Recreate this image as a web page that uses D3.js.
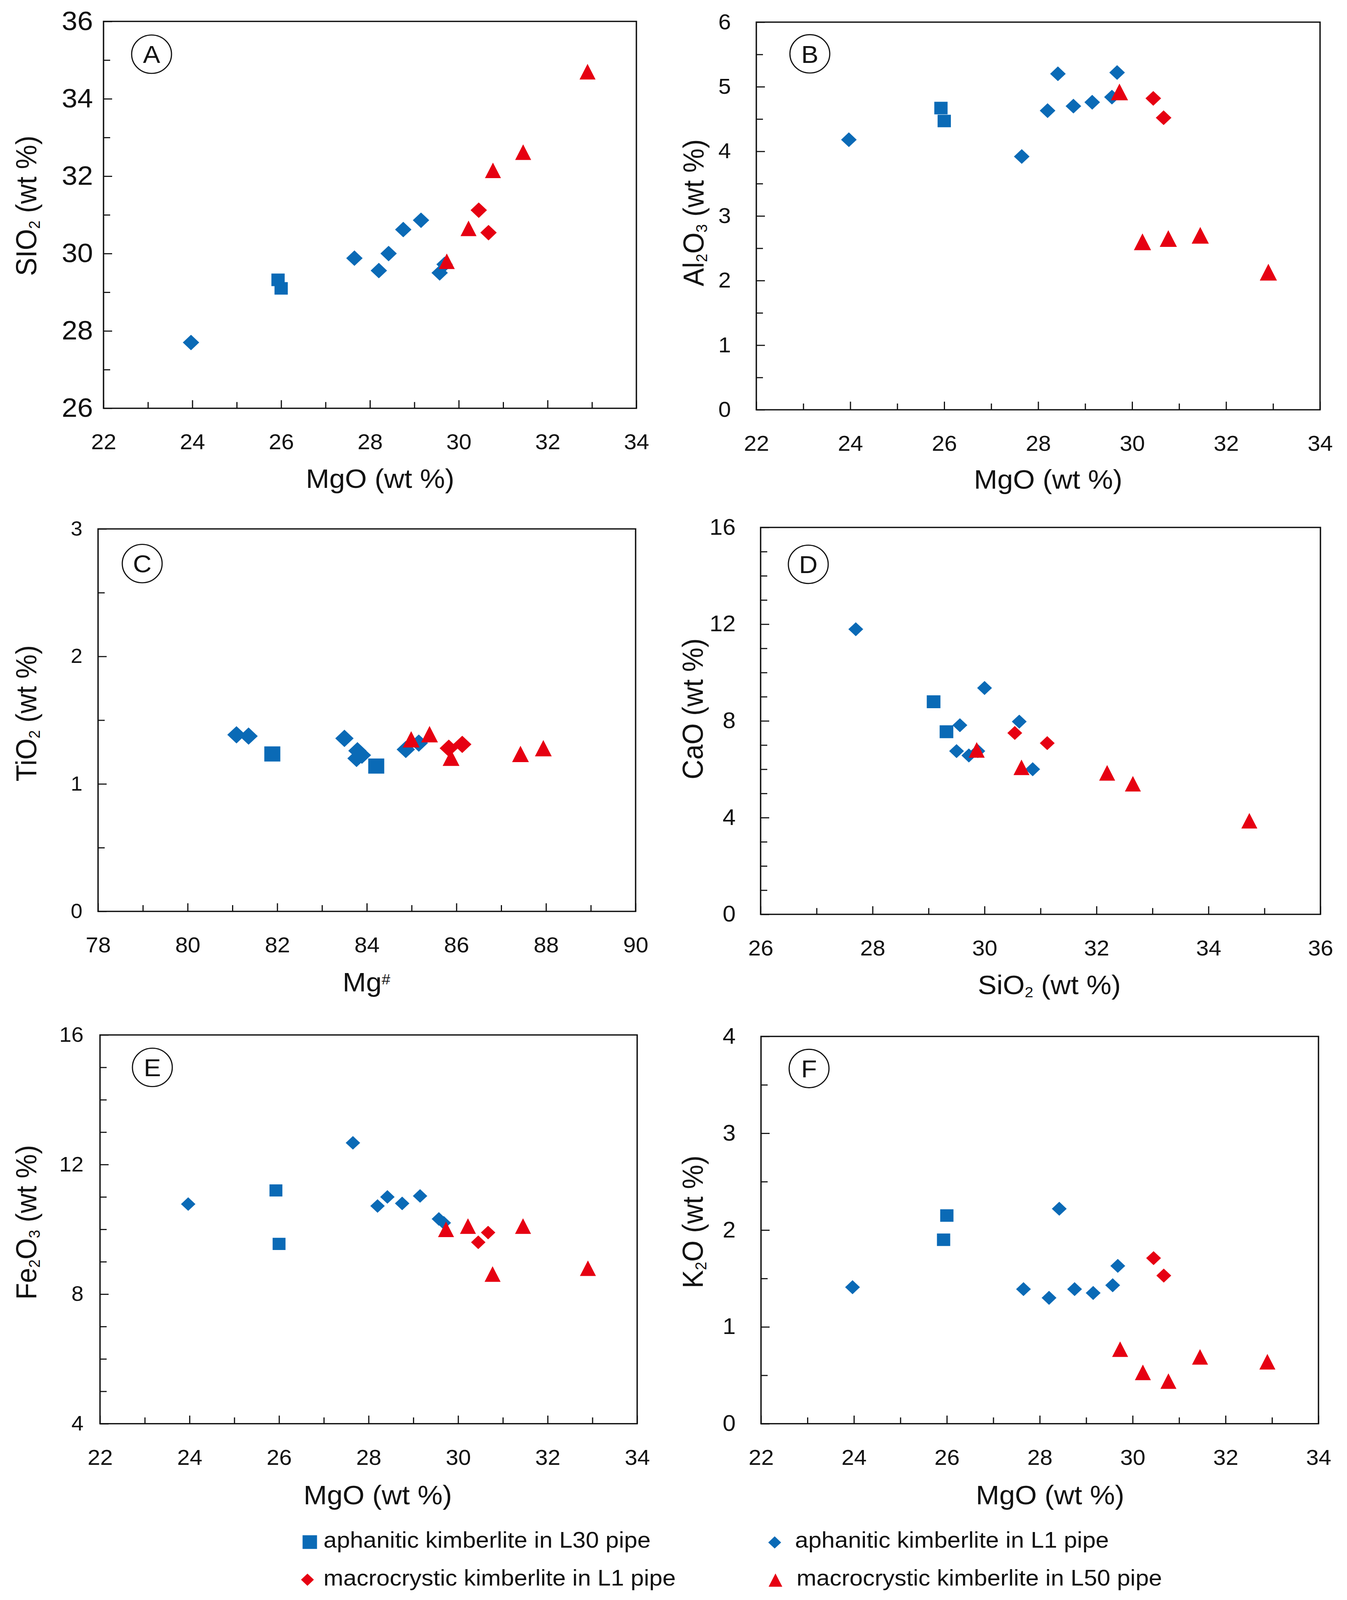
<!DOCTYPE html>
<html>
<head>
<meta charset="utf-8">
<script src="https://d3js.org/d3.v7.min.js"></script>
<style>
  html, body { margin: 0; padding: 0; background: #fff; overflow: hidden; }
  text { font-family: "Liberation Sans", Arial, sans-serif; fill: #111; }
</style>
</head>
<body>
<div id="chart"></div>
<script>
// values, same sample order in every list
const mgoL30 = [25.93, 26.0];
const sio2L30 = [29.32, 29.1];
const al2o3L30 = [4.67, 4.47];
const fe2o3L30 = [11.2, 9.55];
const k2oL30 = [1.9, 2.15];
const sio2L30D = [29.09, 29.32];
const caoL30 = [8.79, 7.55];
const mgNoL30 = [81.89, 84.21];
const tio2L30 = [1.235, 1.14];

const mgoL1a = [23.97, 27.65, 28.2, 28.42, 28.75, 29.15, 29.57, 29.68];
const sio2L1a = [27.7, 29.88, 29.56, 30.0, 30.62, 30.86, 29.5, 29.72];
const al2o3L1a = [4.18, 3.92, 4.63, 5.2, 4.7, 4.76, 4.84, 5.22];
const fe2o3L1a = [10.78, 12.67, 10.72, 11.0, 10.8, 11.03, 10.32, 10.2];
const k2oL1a = [1.41, 1.39, 1.3, 2.22, 1.39, 1.35, 1.43, 1.63];
const caoL1a = [11.79, 6.75, 7.82, 9.36, 7.97, 6.0, 6.75, 6.57];
const mgNoL1a = [81.09, 81.36, 83.5, 83.79, 83.89, 83.77, 84.87, 85.16];
const tio2L1a = [1.385, 1.375, 1.357, 1.26, 1.225, 1.2, 1.27, 1.32];

const mgoL1m = [30.45, 30.67];
const sio2L1m = [31.12, 30.54];
const al2o3L1m = [4.82, 4.52];
const fe2o3L1m = [9.6, 9.9];
const k2oL1m = [1.71, 1.53];
const caoL1m = [7.08, 7.5];
const mgNoL1m = [85.83, 86.13];
const tio2L1m = [1.28, 1.31];

const mgoL50 = [29.73, 30.22, 30.77, 31.45, 32.9];
const sio2L50 = [29.8, 30.65, 32.15, 32.62, 34.7];
const al2o3L50 = [4.92, 2.6, 2.65, 2.7, 2.13];
const fe2o3L50 = [10.0, 10.1, 8.62, 10.1, 8.8];
const k2oL50 = [0.77, 0.53, 0.44, 0.69, 0.64];
const sio2L50D = [29.86, 30.66, 32.19, 32.65, 34.73];
const caoL50 = [6.8, 6.08, 5.85, 5.4, 3.87];
const mgNoL50 = [84.99, 85.4, 85.88, 87.43, 87.94];
const tio2L50 = [1.35, 1.39, 1.205, 1.235, 1.28];

const legendLabels = [
    'aphanitic kimberlite in L30 pipe',
    'aphanitic kimberlite in L1 pipe',
    'macrocrystic kimberlite in L1 pipe',
    'macrocrystic kimberlite in L50 pipe'
];

const BLUE = '#0a6ab6';
const RED = '#e60012';
const INK = '#111';
const width = 3448, height = 4338;

// the window can be shorter than the figure, so the drawing is fitted to it
const svg = d3.select('#chart').append('svg')
    .attr('viewBox', `0 0 ${width} ${height}`)
    .attr('preserveAspectRatio', 'none')
    .style('width', '100vw')
    .style('height', '100vh')
    .style('display', 'block');

// four sample groups, drawn in this order
function groups(xs, ys) {
    return [
        { kind: 'square', color: BLUE, x: xs[0], y: ys[0] },
        { kind: 'diamond', color: BLUE, x: xs[1], y: ys[1] },
        { kind: 'diamond', color: RED, x: xs[2], y: ys[2] },
        { kind: 'triangle', color: RED, x: xs[3], y: ys[3] }
    ];
}

// the figure's triangle is a bit taller than equilateral, centred on its box
const tallTriangle = {
    draw(context, size) {
        const w = Math.sqrt(size);
        const h = w * 1.03;
        context.moveTo(0, -h / 2);
        context.lineTo(w / 2, h / 2);
        context.lineTo(-w / 2, h / 2);
        context.closePath();
    }
};

// size is the side of the square, the width of the diamond or of the triangle
function marker(kind, size) {
    if (kind === 'square') return d3.symbol(d3.symbolSquare, size * size)();
    if (kind === 'diamond') return d3.symbol(d3.symbolSquare, size * size / 2)();
    return d3.symbol(tallTriangle, size * size)();
}

function placeMarker(kind, px, py) {
    return `translate(${px},${py})` + (kind === 'diamond' ? ' rotate(45)' : '');
}

const isMajor = (d, domain, step) => Math.abs((d - domain[0]) / step % 1) < 1e-6;

// inward ticks: the labelled ones are longer
function styleAxis(a, font, domain, step, lineAttr, sign) {
    a.select('.domain').remove();
    a.selectAll('.tick line')
        .attr(lineAttr, d => sign * (isMajor(d, domain, step) ? 22 : 17))
        .attr('stroke', INK)
        .attr('stroke-width', 3);
    a.selectAll('text').style('font-size', font + 'px');
}

function drawPanel(p) {
    const [left, right, top, bottom] = p.box;
    const x = d3.scaleLinear().domain(p.xDomain).range([left, right]);
    const y = d3.scaleLinear().domain(p.yDomain).range([bottom, top]);
    const g = svg.append('g');

    g.append('rect')
        .attr('x', left).attr('y', top)
        .attr('width', right - left).attr('height', bottom - top)
        .attr('fill', 'none').attr('stroke', INK).attr('stroke-width', 3.5);

    const xAxis = d3.axisBottom(x)
        .tickValues(d3.range(p.xDomain[0], p.xDomain[1] + 0.001, p.xMinor))
        .tickSize(-20)
        .tickPadding(70)
        .tickFormat(d => (isMajor(d, p.xDomain, p.xStep) ? d : ''));
    g.append('g').attr('transform', `translate(0,${bottom})`).call(xAxis)
        .call(a => styleAxis(a, p.xFont, p.xDomain, p.xStep, 'y2', -1));

    const yAxis = d3.axisLeft(y)
        .tickValues(d3.range(p.yDomain[0], p.yDomain[1] + 0.001, p.yMinor))
        .tickSize(-20)
        .tickPadding(p.yPad)
        .tickFormat(d => (isMajor(d, p.yDomain, p.yStep) ? d : ''));
    g.append('g').attr('transform', `translate(${left},0)`).call(yAxis)
        .call(a => styleAxis(a, p.yFont, p.yDomain, p.yStep, 'x2', 1));

    groups(p.xs, p.ys).forEach(s => {
        g.selectAll(null).data(s.x).enter().append('path')
            .attr('d', marker(s.kind, p.sizes[s.kind]))
            .attr('fill', s.color)
            .attr('transform', (d, i) => placeMarker(s.kind, x(d), y(s.y[i])));
    });

    // letter in a ring
    g.append('ellipse')
        .attr('cx', p.ring[0]).attr('cy', p.ring[1]).attr('rx', 51).attr('ry', 52)
        .attr('fill', 'none').attr('stroke', INK).attr('stroke-width', 3);
    g.append('text')
        .attr('x', p.ring[0]).attr('y', p.ring[1] + 24)
        .attr('text-anchor', 'middle')
        .style('font-size', '66px')
        .text(p.letter);

    axisTitle(g, p.xTitle, p.xTitlePos[0], p.xTitlePos[1], 0, 72);
    axisTitle(g, p.yTitle, p.yTitlePos[0], p.yTitlePos[1], -90, 74);
}

// title parts: [text, 'sub' | 'sup' | undefined]
function axisTitle(g, parts, tx, ty, angle, size) {
    const t = g.append('text')
        .attr('transform', `translate(${tx},${ty}) rotate(${angle})`)
        .attr('text-anchor', 'middle')
        .style('font-size', size + 'px');
    parts.forEach(part => {
        const span = t.append('tspan').text(part[0]);
        if (part[1] === 'sub') span.attr('baseline-shift', '-22%').style('font-size', size * 0.55 + 'px');
        if (part[1] === 'sup') span.attr('baseline-shift', '50%').style('font-size', size * 0.55 + 'px');
    });
}

const mgoX = [mgoL30, mgoL1a, mgoL1m, mgoL50];
const wt = [' (wt %)'];

const panels = [
    { letter: 'A', box: [265, 1629, 58, 1107], ring: [388, 147],
      xDomain: [22, 34], xStep: 2, xMinor: 1, yDomain: [26, 36], yStep: 2, yMinor: 1,
      xs: mgoX, ys: [sio2L30, sio2L1a, sio2L1m, sio2L50],
      sizes: { square: 34, diamond: 42, triangle: 41 },
      xTitle: [['MgO (wt %)']], yTitle: [['SIO'], ['2', 'sub'], wt],
      xFont: 58, yFont: 72, yPad: 27, xTitlePos: [973, 1323], yTitlePos: [93, 558] },
    { letter: 'B', box: [1936, 3379, 60, 1111], ring: [2073, 146],
      xDomain: [22, 34], xStep: 2, xMinor: 1, yDomain: [0, 6], yStep: 1, yMinor: 0.5,
      xs: mgoX, ys: [al2o3L30, al2o3L1a, al2o3L1m, al2o3L50],
      sizes: { square: 34, diamond: 40, triangle: 44 },
      xTitle: [['MgO (wt %)']], yTitle: [['Al'], ['2', 'sub'], ['O'], ['3', 'sub'], wt],
      xFont: 58, yFont: 58, yPad: 65, xTitlePos: [2683, 1325], yTitlePos: [1801, 577] },
    { letter: 'C', box: [251, 1627, 1434, 2471], ring: [364, 1528],
      xDomain: [78, 90], xStep: 2, xMinor: 1, yDomain: [0, 3], yStep: 1, yMinor: 0.5,
      xs: [mgNoL30, mgNoL1a, mgNoL1m, mgNoL50], ys: [tio2L30, tio2L1a, tio2L1m, tio2L50],
      sizes: { square: 41, diamond: 47, triangle: 43 },
      xTitle: [['Mg'], ['#', 'sup']], yTitle: [['TiO'], ['2', 'sub'], wt],
      xFont: 58, yFont: 54, yPad: 40, xTitlePos: [938, 2688], yTitlePos: [93, 1934] },
    { letter: 'D', box: [1947, 3380, 1430, 2479], ring: [2069, 1530],
      xDomain: [26, 36], xStep: 2, xMinor: 1, yDomain: [0, 16], yStep: 4, yMinor: 1,
      xs: [sio2L30D, sio2L1a, sio2L1m, sio2L50D], ys: [caoL30, caoL1a, caoL1m, caoL50],
      sizes: { square: 35, diamond: 38, triangle: 41 },
      xTitle: [['SiO'], ['2', 'sub'], wt], yTitle: [['CaO'], wt],
      xFont: 58, yFont: 60, yPad: 64, xTitlePos: [2686, 2695], yTitlePos: [1799, 1922] },
    { letter: 'E', box: [256, 1631, 2806, 3860], ring: [390, 2894],
      xDomain: [22, 34], xStep: 2, xMinor: 1, yDomain: [4, 16], yStep: 4, yMinor: 1,
      xs: mgoX, ys: [fe2o3L30, fe2o3L1a, fe2o3L1m, fe2o3L50],
      sizes: { square: 33, diamond: 37, triangle: 41 },
      xTitle: [['MgO (wt %)']], yTitle: [['Fe'], ['2', 'sub'], ['O'], ['3', 'sub'], wt],
      xFont: 58, yFont: 56, yPad: 42, xTitlePos: [967, 4079], yTitlePos: [93, 3314] },
    { letter: 'F', box: [1948, 3375, 2810, 3860], ring: [2071, 2897],
      xDomain: [22, 34], xStep: 2, xMinor: 1, yDomain: [0, 4], yStep: 1, yMinor: 0.5,
      xs: mgoX, ys: [k2oL30, k2oL1a, k2oL1m, k2oL50],
      sizes: { square: 34, diamond: 38, triangle: 41 },
      xTitle: [['MgO (wt %)']], yTitle: [['K'], ['2', 'sub'], ['O'], wt],
      xFont: 58, yFont: 60, yPad: 65, xTitlePos: [2688, 4079], yTitlePos: [1799, 3313] }
];

panels.forEach(drawPanel);

// legend, two by two under the last row
const legendKeys = [
    { kind: 'square', color: BLUE, size: 37, at: [793, 4181], textAt: [828, 4196] },
    { kind: 'diamond', color: BLUE, size: 33, at: [1983, 4182], textAt: [2035, 4196] },
    { kind: 'diamond', color: RED, size: 33, at: [787, 4283], textAt: [828, 4299] },
    { kind: 'triangle', color: RED, size: 35, at: [1985, 4284], textAt: [2039, 4299] }
];
legendLabels.forEach((label, i) => {
    const key = legendKeys[i];
    svg.append('path')
        .attr('d', marker(key.kind, key.size))
        .attr('fill', key.color)
        .attr('transform', placeMarker(key.kind, key.at[0], key.at[1]));
    svg.append('text')
        .attr('x', key.textAt[0]).attr('y', key.textAt[1])
        .style('font-size', '61px')
        .text(label);
});
</script>
</body>
</html>
